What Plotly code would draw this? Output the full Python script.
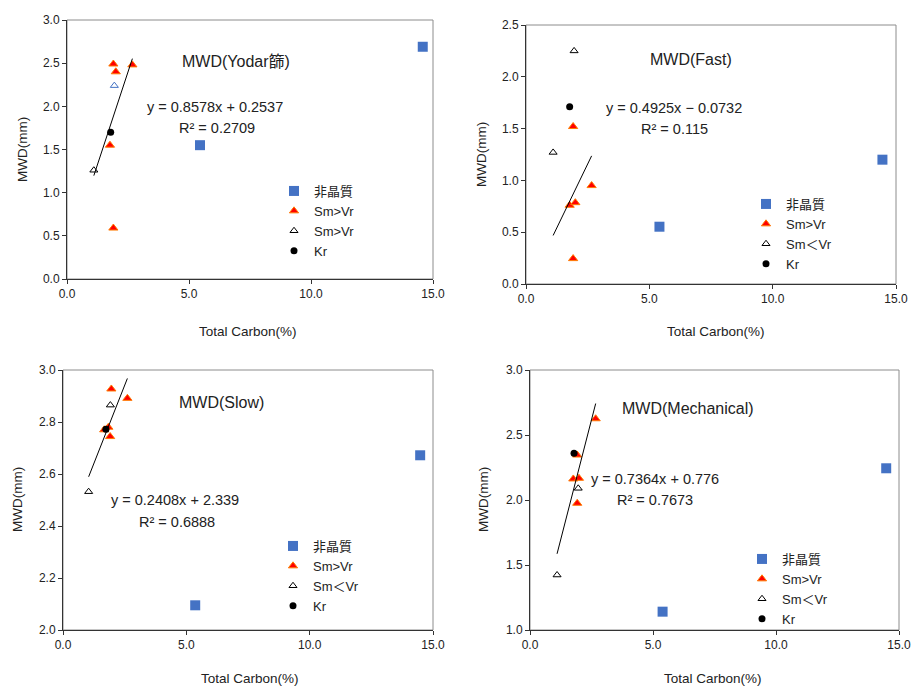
import plotly.graph_objects as go

W, H = 914, 686
FONT = "Liberation Sans, Noto Sans CJK JP, sans-serif"

# ---------------- data ----------------
panel_titles = ["MWD(Yodar篩)", "MWD(Fast)", "MWD(Slow)", "MWD(Mechanical)"]
legend_names = [
    ["非晶質", "Sm>Vr", "Sm>Vr", "Kr"],
    ["非晶質", "Sm>Vr", "Sm＜Vr", "Kr"],
    ["非晶質", "Sm>Vr", "Sm＜Vr", "Kr"],
    ["非晶質", "Sm>Vr", "Sm＜Vr", "Kr"],
]

# amorphous (非晶質)
amorph_x = [[5.45, 14.58], [5.41, 14.45], [5.36, 14.48], [5.39, 14.48]]
amorph_y = [[1.55, 2.69], [0.553, 1.20], [2.095, 2.672], [1.141, 2.244]]

# Sm>Vr
smgt_x = [[1.90, 2.00, 2.68, 1.76, 1.90],
          [1.91, 2.66, 1.77, 2.00, 1.91],
          [1.96, 2.61, 1.84, 1.67, 1.91],
          [2.67, 1.92, 1.76, 1.99, 1.92]]
smgt_y = [[2.49, 2.40, 2.48, 1.55, 0.59],
          [1.52, 0.95, 0.76, 0.785, 0.245],
          [2.927, 2.891, 2.78, 2.77, 2.744],
          [2.625, 2.346, 2.162, 2.167, 1.975]]

# Sm<Vr (open triangles)
smlt_x = [[1.10, 1.94], [1.10, 1.95], [1.04, 1.92], [1.10, 1.96]]
smlt_y = [[1.26, 2.24], [1.27, 2.25], [2.532, 2.865], [1.423, 2.09]]

# Kr
kr_x = [[1.79], [1.77], [1.74], [1.79]]
kr_y = [[1.70], [1.71], [2.772], [2.36]]

# linear trendlines
slopes = [0.8578, 0.4925, 0.2408, 0.7364]
intercepts = [0.2537, -0.0732, 2.339, 0.776]
r_squared = ["0.2709", "0.115", "0.6888", "0.7673"]

x_ticks = [0, 5, 10, 15]
y_ranges = [[0, 3.0], [0, 2.5], [2.0, 3.0], [1.0, 3.0]]
y_dticks = [0.5, 0.5, 0.2, 0.5]

# ---------------- layout geometry (pixels) ----------------
boxes = [(67, 20, 433, 279), (526, 25, 896, 284), (63, 370, 433, 630), (530, 370, 899, 630)]
title_pos = [(236, 62), (691, 60), (221, 403), (688, 408)]
eq_pos = [(215, 107), (674, 108), (175, 500), (655, 479)]
r2_pos = [(217, 128), (674, 129), (177, 522), (655, 500)]
legend_pos = [(274, 176), (746, 189), (273, 531), (742, 544)]
xtitle_pos = [(248, 331), (716, 331), (250, 678), (713, 678)]
ytitle_pos = [(22, 150), (482, 155), (18, 500), (484, 500)]

def fx(x):
    return x / W

def fy(y):
    return 1 - y / H

fig = go.Figure()
annotations = []
shapes = []
layout = {}

for i in range(4):
    n = "" if i == 0 else str(i + 1)
    xa, ya = "x" + n, "y" + n
    lg = "legend" + n
    l, t, r, b = boxes[i]
    names = legend_names[i]

    fig.add_trace(go.Scatter(
        x=amorph_x[i], y=amorph_y[i], mode="markers", name=names[0], legend=lg,
        xaxis=xa, yaxis=ya,
        marker=dict(symbol="square", size=10, color="#4472C4")))
    fig.add_trace(go.Scatter(
        x=smgt_x[i], y=smgt_y[i], mode="markers", name=names[1], legend=lg,
        xaxis=xa, yaxis=ya,
        marker=dict(symbol="triangle-up", size=8, color="#FF0000",
                    line=dict(color="#FF7A00", width=1))))
    lc = ["#000000", "#4472C4"] if i == 0 else ["#000000", "#000000"]
    fig.add_trace(go.Scatter(
        x=smlt_x[i], y=smlt_y[i], mode="markers", name=names[2], legend=lg,
        xaxis=xa, yaxis=ya,
        marker=dict(symbol="triangle-up-open", size=7, color=lc,
                    line=dict(width=1))))
    fig.add_trace(go.Scatter(
        x=kr_x[i], y=kr_y[i], mode="markers", name=names[3], legend=lg,
        xaxis=xa, yaxis=ya,
        marker=dict(symbol="circle", size=7, color="#000000")))

    fit_x = smgt_x[i] + smlt_x[i] + kr_x[i]
    x0, x1 = min(fit_x), max(fit_x)
    fig.add_trace(go.Scatter(
        x=[x0, x1], y=[slopes[i] * x0 + intercepts[i], slopes[i] * x1 + intercepts[i]],
        mode="lines", showlegend=False, hoverinfo="skip",
        xaxis=xa, yaxis=ya, line=dict(color="#000000", width=1)))

    axis_common = dict(showgrid=False, zeroline=False, showline=True, automargin=False,
                       linecolor="#333333", linewidth=1, ticks="outside",
                       ticklen=4, tickcolor="#333333", tickformat=".1f",
                       tickfont=dict(family=FONT, size=12, color="#222222"))
    layout["xaxis" + n] = dict(axis_common, domain=[fx(l), fx(r)], anchor=ya,
                               range=[0, 15], tickvals=x_ticks)
    layout["yaxis" + n] = dict(axis_common, domain=[fy(b), fy(t)], anchor=xa,
                               range=y_ranges[i], dtick=y_dticks[i])

    shapes.append(dict(type="rect", xref=xa + " domain", yref=ya + " domain",
                       x0=0, x1=1, y0=0, y1=1, layer="below",
                       line=dict(color="#8c8c8c", width=1)))

    layout[lg] = dict(x=fx(legend_pos[i][0]), y=fy(legend_pos[i][1]),
                      xanchor="left", yanchor="top", bgcolor="rgba(0,0,0,0)",
                      font=dict(family=FONT, size=13, color="#222222"),
                      tracegroupgap=0)

    sign = "+" if intercepts[i] >= 0 else "−"
    eq = f"y = {slopes[i]}x {sign} {abs(intercepts[i])}"
    txt = [
        (panel_titles[i], title_pos[i], 16, 0),
        (eq, eq_pos[i], 14.5, 0),
        ("R² = " + r_squared[i], r2_pos[i], 14.5, 0),
        ("Total Carbon(%)", xtitle_pos[i], 13.5, 0),
        ("MWD(mm)", ytitle_pos[i], 13.5, -90),
    ]
    for s, (ax_, ay_), fs, ang in txt:
        annotations.append(dict(text=s, x=fx(ax_), y=fy(ay_), xref="paper", yref="paper",
                                xanchor="center", yanchor="middle", showarrow=False,
                                textangle=ang,
                                font=dict(family=FONT, size=fs, color="#222222")))

fig.update_layout(
    width=W, height=H, margin=dict(l=0, r=0, t=0, b=0, autoexpand=False),
    plot_bgcolor="white", paper_bgcolor="white",
    font=dict(family=FONT, color="#222222"),
    annotations=annotations, shapes=shapes, **layout)

fig.write_html("out.html", config={"displayModeBar": False},
               post_script="document.body.style.margin='0';document.body.style.overflow='hidden';")
